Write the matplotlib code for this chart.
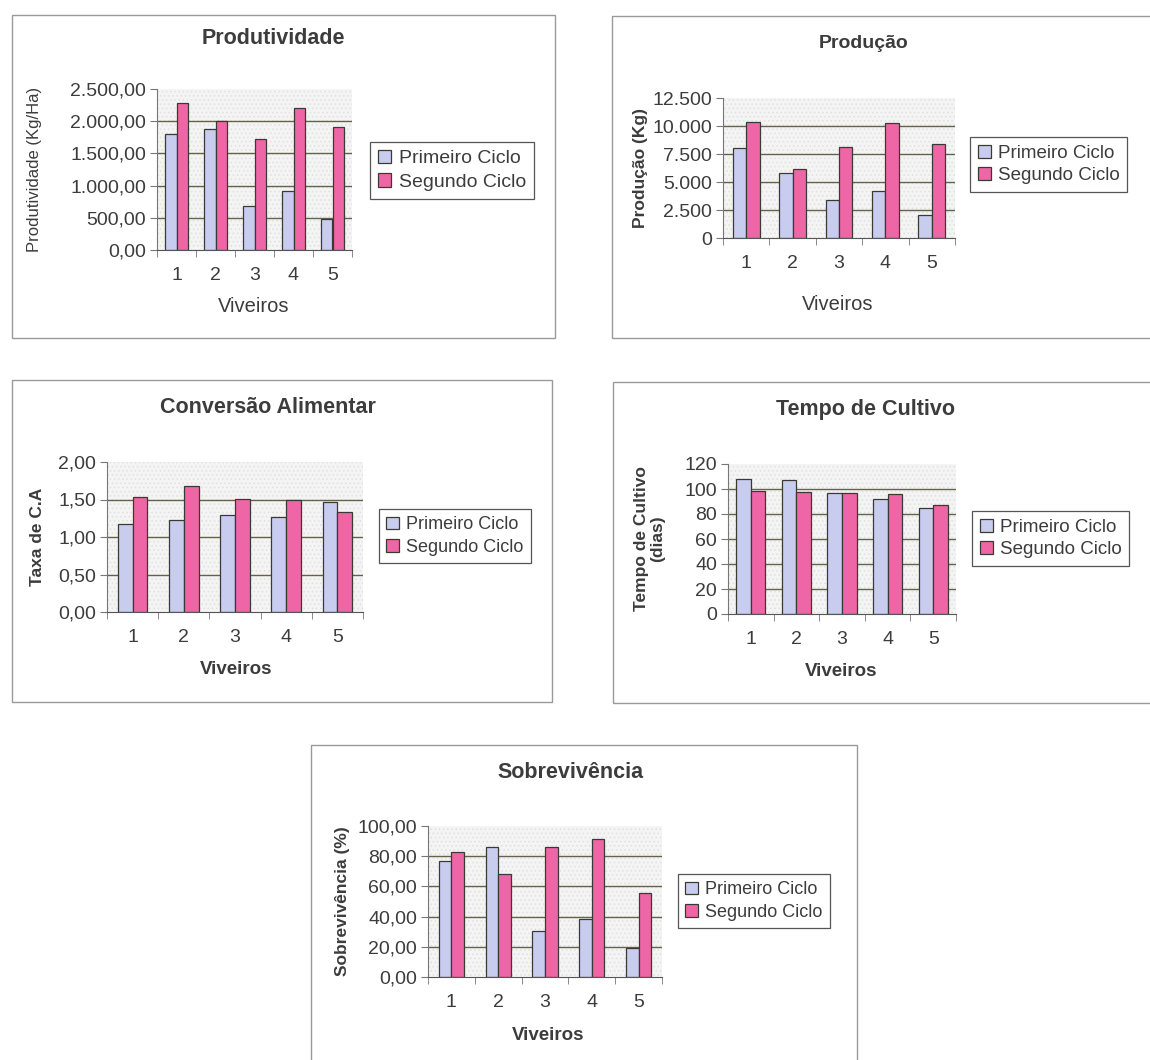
import matplotlib
matplotlib.use("Agg")
import matplotlib.pyplot as plt
from matplotlib.patches import Rectangle, Patch
from matplotlib.ticker import FixedLocator, FuncFormatter, NullFormatter
import numpy as np

plt.rcParams['font.family'] = ['Liberation Sans', 'DejaVu Sans']
plt.rcParams['hatch.linewidth'] = 0.6

W, H = 1150, 1060

viveiros = ["1", "2", "3", "4", "5"]
series_names = ["Primeiro Ciclo", "Segundo Ciclo"]

produtividade_1 = [1800, 1880, 690, 915, 475]
produtividade_2 = [2285, 2000, 1725, 2200, 1915]

producao_1 = [8010, 5830, 3350, 4215, 2095]
producao_2 = [10320, 6160, 8165, 10290, 8400]

conversao_1 = [1.18, 1.23, 1.30, 1.27, 1.47]
conversao_2 = [1.53, 1.68, 1.51, 1.49, 1.34]

tempo_1 = [108, 107, 97, 92, 84.5]
tempo_2 = [98.5, 97.5, 97, 96, 87]

sobrevivencia_1 = [76.8, 85.8, 30.3, 38.1, 19.2]
sobrevivencia_2 = [83.0, 68.4, 85.8, 91.6, 55.3]

COL_1 = "#c8ccef"
COL_2 = "#ef66a7"
EDGE = "#3a3a30"
GRID = "#66624a"
TXT = "#3c3c3c"


def br_number(v, decimals):
    s = f"{v:,.{decimals}f}"
    return s.replace(",", "X").replace(".", ",").replace("X", ".")


def px_rect(x0, y0, x1, y1):
    return [x0 / W, 1 - y1 / H, (x1 - x0) / W, (y1 - y0) / H]


fig = plt.figure(figsize=(W / 100, H / 100), dpi=100)
fig.patch.set_facecolor("white")

panels = [
    dict(title="Produtividade", tsize=15.5, box=(12, 15, 555, 338), ax=(157, 89, 352, 250),
         s1=produtividade_1, s2=produtividade_2, ymax=2500, step=500, dec=2,
         ylabel="Produtividade (Kg/Ha)", ylab_bold=False, ylab_size=12, ylab_x=35,
         title_xy=(273, 38), xlab_xy=(254, 307), leg=(370, 142), legsize=14, barw=0.3,
         xlab_bold=False),
    dict(title="Produção", tsize=14, box=(612, 16, 1160, 338), ax=(723, 98, 955, 238),
         s1=producao_1, s2=producao_2, ymax=12500, step=2500, dec=0,
         ylabel="Produção (Kg)", ylab_bold=True, ylab_size=12.5, ylab_x=640,
         title_xy=(864, 43), xlab_xy=(838, 305), leg=(970, 137), legsize=13.5, barw=0.29,
         xlab_bold=False),
    dict(title="Conversão Alimentar", tsize=15.5, box=(12, 380, 552, 702), ax=(107, 462, 363, 612),
         s1=conversao_1, s2=conversao_2, ymax=2.0, step=0.5, dec=2,
         ylabel="Taxa de C.A", ylab_bold=True, ylab_size=12.5, ylab_x=38,
         title_xy=(268, 407), xlab_xy=(236, 670), leg=(379, 509), legsize=13, barw=0.29,
         xlab_bold=True),
    dict(title="Tempo de Cultivo", tsize=15.5, box=(613, 382, 1160, 703), ax=(728, 464, 956, 614),
         s1=tempo_1, s2=tempo_2, ymax=120, step=20, dec=0,
         ylabel="Tempo de Cultivo\n(dias)", ylab_bold=True, ylab_size=12.5, ylab_x=650,
         title_xy=(865, 410), xlab_xy=(841, 672), leg=(972, 511), legsize=13.5, barw=0.32,
         xlab_bold=True),
    dict(title="Sobrevivência", tsize=15.5, box=(311, 745, 857, 1065), ax=(428, 826, 662, 977),
         s1=sobrevivencia_1, s2=sobrevivencia_2, ymax=100, step=20, dec=2,
         ylabel="Sobrevivência (%)", ylab_bold=True, ylab_size=12.5, ylab_x=342,
         title_xy=(570, 772), xlab_xy=(548, 1035), leg=(678, 874), legsize=13, barw=0.27,
         xlab_bold=True),
]

x = np.arange(1, len(viveiros) + 1)

for p in panels:
    # outer frame of each chart
    bx0, by0, bx1, by1 = p["box"]
    fig.patches.append(Rectangle((bx0 / W, 1 - by1 / H), (bx1 - bx0) / W, (by1 - by0) / H,
                                 transform=fig.transFigure, fill=False,
                                 edgecolor="#9a9a9a", lw=1.0))

    ax = fig.add_axes(px_rect(*p["ax"]))
    ax.set_facecolor("#f4f4f4")
    # fine stippled texture of the plot area
    ax.add_patch(Rectangle((0, 0), 1, 1, transform=ax.transAxes, facecolor="none",
                           edgecolor="#e0e0e0", hatch="....", lw=0, zorder=0))
    bw = p["barw"]
    ax.bar(x - bw / 2, p["s1"], width=bw, color=COL_1, edgecolor=EDGE, lw=0.9, zorder=3)
    ax.bar(x + bw / 2, p["s2"], width=bw, color=COL_2, edgecolor=EDGE, lw=0.9, zorder=3)

    ax.set_xlim(0.5, 5.5)
    ax.set_ylim(0, p["ymax"])
    yt = np.arange(0, p["ymax"] + p["step"] / 2, p["step"])
    ax.yaxis.set_major_locator(FixedLocator(yt))
    dec = p["dec"]
    ax.yaxis.set_major_formatter(FuncFormatter(lambda v, pos, d=dec: br_number(v, d)))
    for yv in yt[1:-1]:
        ax.axhline(yv, color=GRID, lw=1.0, zorder=1)

    ax.xaxis.set_major_locator(FixedLocator(x))
    ax.set_xticklabels(viveiros)
    ax.xaxis.set_minor_locator(FixedLocator(np.arange(0.5, 5.6, 1.0)))
    ax.xaxis.set_minor_formatter(NullFormatter())
    ax.tick_params(axis="x", which="major", length=0, pad=12, labelsize=14, labelcolor=TXT)
    ax.tick_params(axis="x", which="minor", length=5, direction="out", color="#777")
    ax.tick_params(axis="y", length=5, direction="out", color="#777", labelsize=14,
                   labelcolor=TXT, pad=3)

    for s in ("top", "right"):
        ax.spines[s].set_visible(False)
    ax.spines["left"].set_color("#777")
    ax.spines["bottom"].set_color("#555")
    ax.spines["bottom"].set_zorder(4)

    tx, ty = p["title_xy"]
    fig.text(tx / W, 1 - ty / H, p["title"], ha="center", va="center",
             fontsize=p["tsize"], fontweight="bold", color=TXT)
    lx, ly = p["xlab_xy"]
    fig.text(lx / W, 1 - ly / H, "Viveiros", ha="center", va="center",
             fontsize=13.5 if p["xlab_bold"] else 14.5,
             fontweight="bold" if p["xlab_bold"] else "normal", color=TXT)
    ay0, ay1 = p["ax"][1], p["ax"][3]
    fig.text(p["ylab_x"] / W, 1 - (ay0 + ay1) / 2 / H, p["ylabel"], ha="center", va="center",
             rotation=90, fontsize=p["ylab_size"],
             fontweight="bold" if p["ylab_bold"] else "normal", color=TXT,
             multialignment="center", linespacing=1.1)

    handles = [Patch(facecolor=COL_1, edgecolor=EDGE, lw=0.9, label=series_names[0]),
               Patch(facecolor=COL_2, edgecolor=EDGE, lw=0.9, label=series_names[1])]
    gx, gy = p["leg"]
    leg = ax.legend(handles=handles, loc="upper left", bbox_to_anchor=(gx / W, 1 - gy / H),
                    bbox_transform=fig.transFigure, borderaxespad=0, fontsize=p["legsize"],
                    frameon=True, fancybox=False, edgecolor="#555", framealpha=1,
                    handlelength=0.7, handleheight=0.7, handletextpad=0.4,
                    labelspacing=0.3, borderpad=0.4, labelcolor=TXT)
    leg.get_frame().set_linewidth(0.9)

fig.savefig("out.png", dpi=100, facecolor="white")
